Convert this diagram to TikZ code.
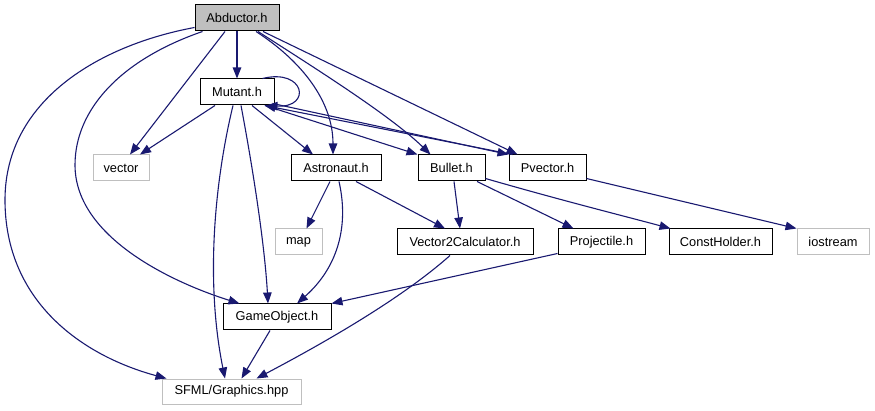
\documentclass[tikz,border=0pt]{standalone}
\usepackage{fontspec}
\setmainfont{Liberation Sans}
\usetikzlibrary{arrows.meta,calc}
\definecolor{edgeblue}{HTML}{191970}
\definecolor{extgray}{HTML}{BFBFBF}
\begin{document}
\begin{tikzpicture}[x=1pt,y=-1pt,
  box/.style={draw=black,line width=1pt,fill=white,inner sep=0pt,minimum height=26pt,font=\fontsize{12.8}{14}\selectfont},
  extbox/.style={box,draw=extgray},
  rootbox/.style={box,fill=extgray},
  dep/.style={draw=edgeblue,line width=1.1pt,-{Triangle[length=11pt,width=8.5pt]}}]
\useasboundingbox (0,0) rectangle (875,411);
% nodes
\node[rootbox,minimum width=84pt] (abd) at (237,18) {Abductor.h};
\node[box,minimum width=74pt] (mut) at (237,92) {Mutant.h};
\node[extbox,minimum width=56pt] (vec) at (121,168) {vector};
\node[box,minimum width=90pt] (ast) at (336,168) {Astronaut.h};
\node[box,minimum width=67pt] (bul) at (451.5,168) {Bullet.h};
\node[box,minimum width=77pt] (pvec) at (547.5,168) {Pvector.h};
\node[extbox,minimum width=47pt] (map) at (298.5,242) {map};
\node[box,minimum width=136pt] (v2c) at (465,242) {Vector2Calculator.h};
\node[box,minimum width=87pt] (proj) at (601.5,242) {Projectile.h};
\node[box,minimum width=103pt] (cst) at (720.5,242) {ConstHolder.h};
\node[extbox,minimum width=72pt] (ios) at (833,242) {iostream};
\node[box,minimum width=108pt] (go) at (277,317) {GameObject.h};
\node[extbox,minimum width=139pt,minimum height=25pt] (sfml) at (231.5,391.5) {SFML/Graphics.hpp};
% edges from Abductor
\draw[dep] (abd.south) -- (mut.north);
\draw[dep] ($(abd.south)+(-12,0)$) -- ($(vec.north)+(9,0)$);
\draw[dep] ($(abd.south west)+(0,-4)$) .. controls (100,45) and (5,100) .. (5,200)
  .. controls (5,300) and (80,355) .. ($(sfml.north west)+(5,0)$);
\draw[dep] ($(abd.south west)+(8,0)$) .. controls (120,60) and (75,110) .. (75,165)
  .. controls (75,240) and (180,285) .. ($(go.north west)+(17,0)$);
\draw[dep] ($(abd.south)+(19,0)$) .. controls (300,60) and (333,100) .. ($(ast.north)+(-3,0)$);
\draw[dep] ($(abd.south)+(21,0)$) .. controls (310,65) and (390,115) .. ($(bul.north)+(-21,0)$);
\draw[dep] ($(abd.south)+(26,0)$) -- ($(pvec.north west)+(9,0)$);
% edges from Mutant
\draw[dep] ($(mut.north east)+(-12,0)$) .. controls (305,68) and (312,108) .. ($(mut.south east)+(-8,0)$);
\draw[dep] ($(mut.south)+(-22,0)$) -- ($(vec.north)+(19,0)$);
\draw[dep] ($(mut.south)+(15,0)$) -- ($(ast.north)+(-23,0)$);
\draw[dep] ($(mut.south)+(28,0)$) -- (bul.north west);
\draw[dep] ($(mut.south east)+(-2,-2)$) -- (pvec.north west);
\draw[dep] ($(pvec.north west)+(4,0)$) -- ($(mut.south east)+(-10,0)$);
\draw[dep] ($(mut.south)+(4,0)$) .. controls (255,180) and (265,250) .. ($(go.north)+(-9,0)$);
\draw[dep] ($(mut.south)+(-4,0)$) .. controls (215,180) and (205,280) .. ($(sfml.north)+(-6.5,0)$);
% Astronaut
\draw[dep] ($(ast.south)+(-6,0)$) -- ($(map.north)+(8,0)$);
\draw[dep] ($(ast.south)+(3,0)$) .. controls (350,230) and (335,270) .. ($(go.north)+(20,0)$);
\draw[dep] ($(ast.south)+(20,0)$) -- ($(v2c.north)+(-20,0)$);
% Bullet
\draw[dep] ($(bul.south)+(2.5,0)$) -- ($(v2c.north)+(-5,0)$);
\draw[dep] ($(bul.south)+(25.5,0)$) -- ($(proj.north)+(-28,0)$);
\draw[dep] ($(bul.south east)+(0,-3)$) .. controls (560,200) and (620,215) .. ($(cst.north west)+(2,0)$);
% Pvector
\draw[dep] ($(pvec.south east)+(0,-3)$) -- (ios.north west);
% lower
\draw[dep] ($(v2c.south)+(-15,0)$) .. controls (400,300) and (320,345) .. ($(sfml.north)+(25,0)$);
\draw[dep] ($(proj.south west)+(0,-2)$) -- (go.north east);
\draw[dep] ($(go.south)+(-7,0)$) -- ($(sfml.north)+(10,0)$);
\end{tikzpicture}
\end{document}
